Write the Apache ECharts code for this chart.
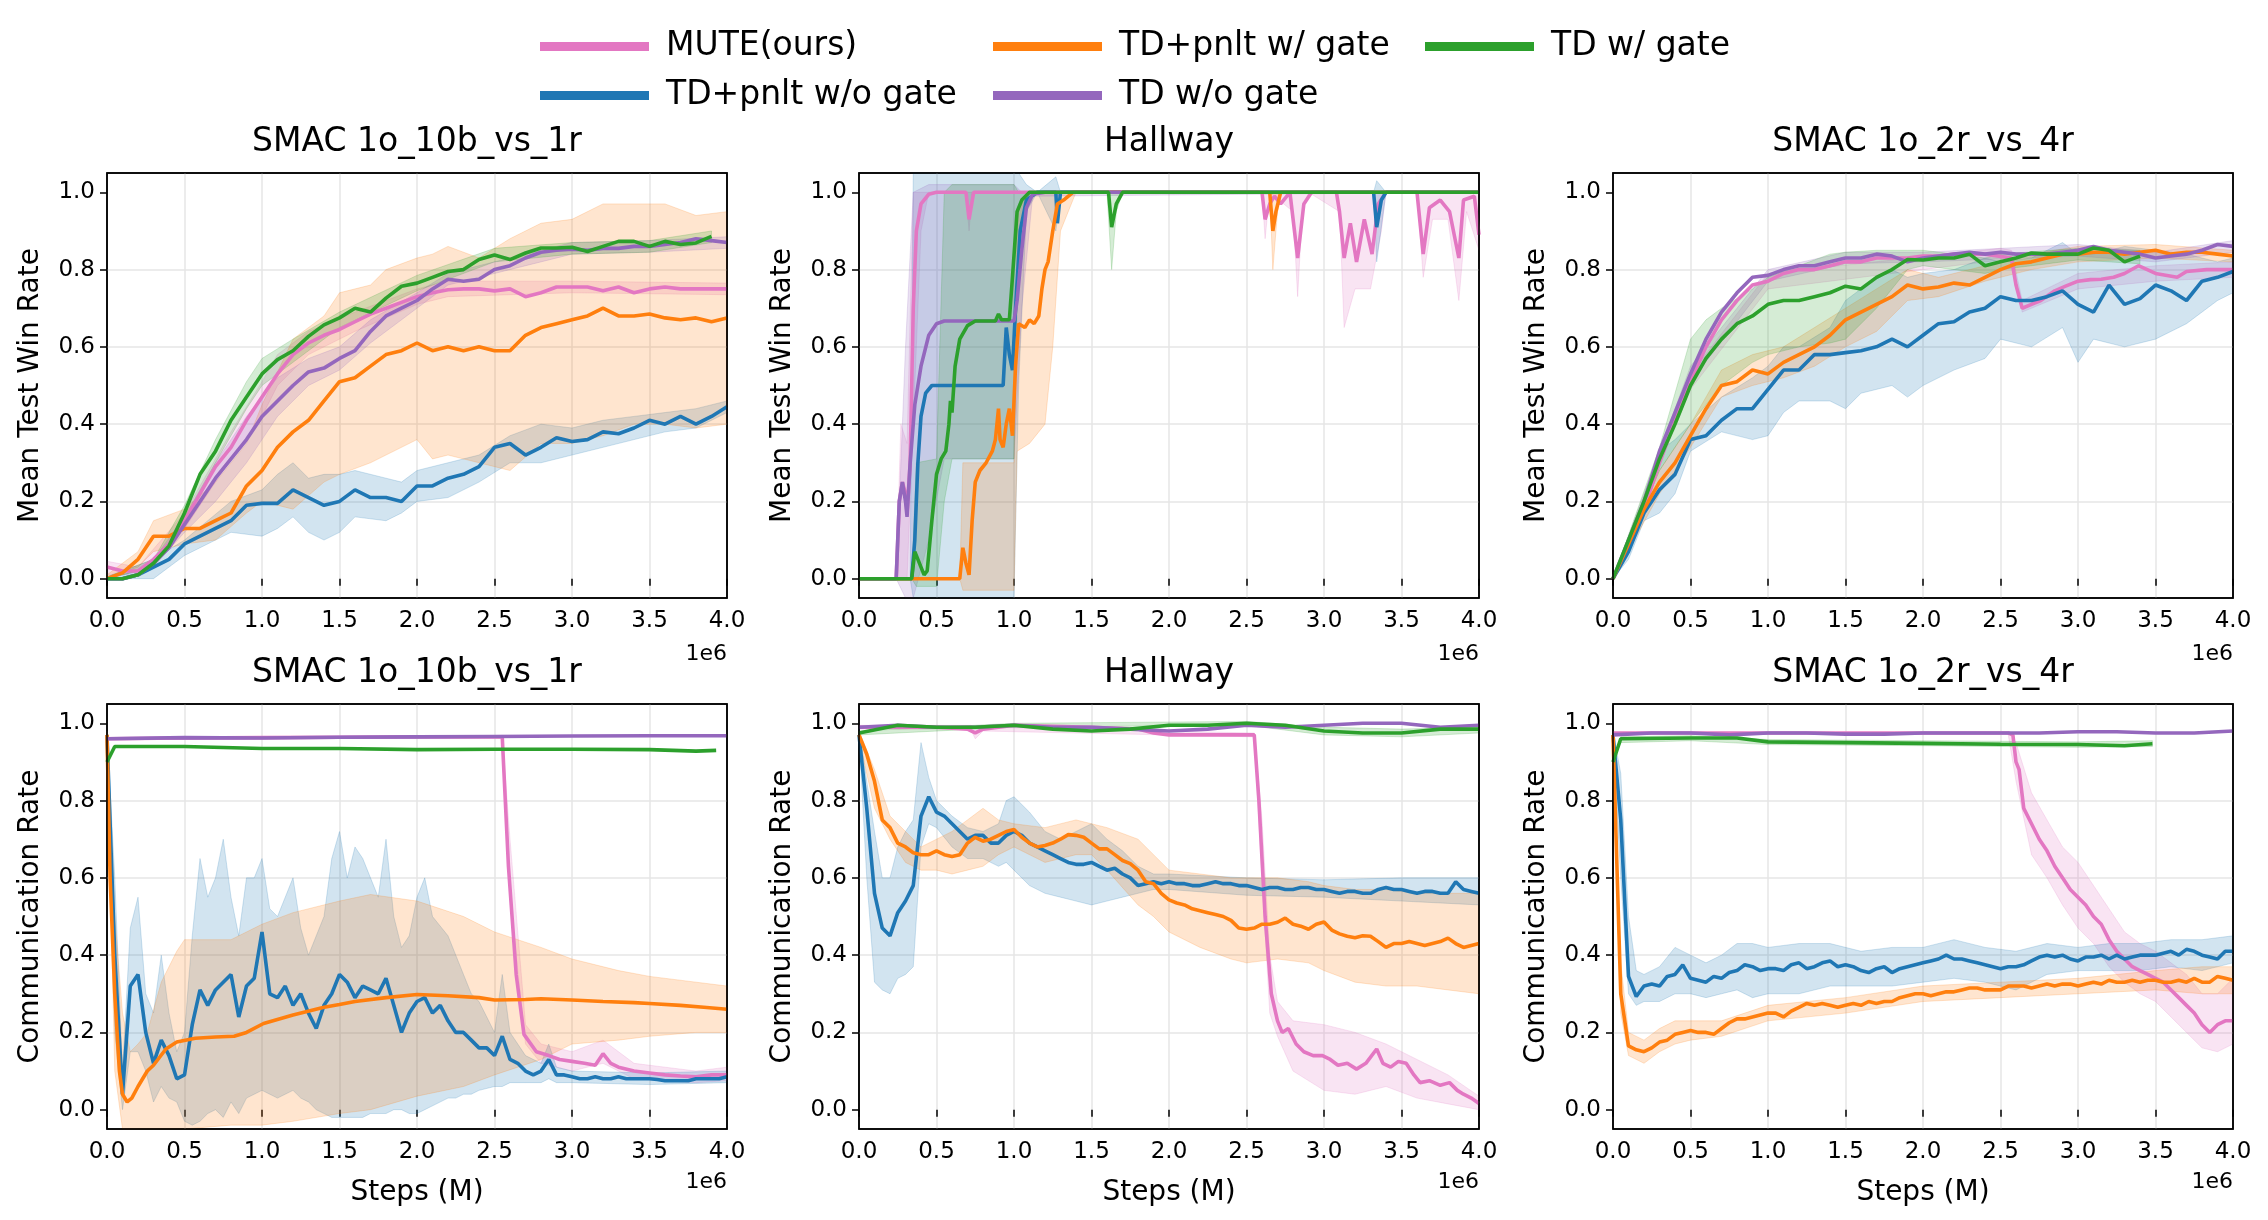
<!DOCTYPE html>
<html>
<head>
<meta charset="utf-8">
<script src="https://cdn.jsdelivr.net/npm/echarts@6/dist/echarts.min.js"></script>
<style>
  html, body { margin: 0; padding: 0; background: #fff; }
  #chart { width: 2268px; height: 1220px; }
</style>
</head>
<body>
<div id="chart"></div>
<script>
'use strict';

const methods = ['MUTE(ours)', 'TD+pnlt w/o gate', 'TD+pnlt w/ gate', 'TD w/o gate', 'TD w/ gate'];
const colors = ['#e377c2', '#1f77b4', '#ff7f0e', '#9467bd', '#2ca02c'];
const fills = ['rgba(227,119,194,0.2)', 'rgba(31,119,180,0.2)', 'rgba(255,127,14,0.2)', 'rgba(148,103,189,0.2)', 'rgba(44,160,44,0.2)'];
const titles = ['SMAC 1o_10b_vs_1r', 'Hallway', 'SMAC 1o_2r_vs_4r'];
const yNames = ['Mean Test Win Rate', 'Communication Rate'];
const yTicks = [0, 0.2, 0.4, 0.6, 0.8, 1.0];

// ---- top left: SMAC 1o_10b_vs_1r win rate (step 0.1M) ----
const A_pink = [0.03,0.02,0.02,0.05,0.09,0.15,0.22,0.29,0.34,0.41,0.47,0.53,0.58,0.61,0.63,0.645,0.665,0.685,0.70,0.715,0.73,0.74,0.748,0.75,0.75,0.745,0.75,0.73,0.74,0.755,0.755,0.755,0.745,0.755,0.74,0.75,0.755,0.75,0.75,0.75,0.75];
const A_blue = [0,0,0.01,0.03,0.05,0.09,0.11,0.13,0.15,0.19,0.195,0.195,0.23,0.21,0.19,0.20,0.23,0.21,0.21,0.20,0.24,0.24,0.26,0.27,0.29,0.34,0.35,0.32,0.34,0.365,0.355,0.36,0.38,0.375,0.39,0.41,0.40,0.42,0.40,0.42,0.445];
const A_orange = [0,0.015,0.05,0.11,0.11,0.13,0.13,0.15,0.17,0.24,0.28,0.34,0.38,0.41,0.46,0.51,0.52,0.55,0.58,0.59,0.61,0.59,0.60,0.59,0.60,0.59,0.59,0.63,0.65,0.66,0.67,0.68,0.70,0.68,0.68,0.685,0.675,0.67,0.675,0.665,0.675];
const A_purple = [0,0,0.01,0.04,0.08,0.14,0.2,0.26,0.31,0.36,0.42,0.46,0.5,0.535,0.545,0.57,0.59,0.64,0.68,0.70,0.72,0.75,0.775,0.77,0.775,0.80,0.81,0.83,0.845,0.85,0.853,0.85,0.855,0.855,0.86,0.86,0.865,0.87,0.88,0.875,0.87];
const A_green = [0,0,0.01,0.04,0.085,0.17,0.27,0.33,0.41,0.47,0.53,0.567,0.59,0.627,0.657,0.675,0.70,0.69,0.726,0.757,0.765,0.78,0.795,0.80,0.826,0.838,0.826,0.843,0.856,0.856,0.858,0.847,0.86,0.873,0.873,0.86,0.873,0.865,0.869,0.886];
const A_pink_band = [[0,0.01,0.045],[0.2,0.01,0.03],[0.5,0.13,0.17],[0.8,0.31,0.38],[1.0,0.42,0.51],[1.1,0.5,0.58],[1.3,0.58,0.64],[1.6,0.64,0.69],[2.0,0.71,0.75],[2.2,0.73,0.77],[3.0,0.74,0.77],[4.0,0.735,0.765]];
const A_blue_band = [[0,0,0],[0.2,0,0.02],[0.3,0.0,0.05],[0.5,0.06,0.1],[0.8,0.12,0.2],[1.0,0.11,0.23],[1.1,0.13,0.27],[1.2,0.16,0.3],[1.3,0.12,0.26],[1.4,0.1,0.27],[1.5,0.12,0.27],[1.6,0.16,0.28],[1.8,0.15,0.26],[1.9,0.17,0.25],[2.0,0.2,0.28],[2.2,0.21,0.3],[2.4,0.25,0.32],[2.6,0.3,0.37],[2.8,0.3,0.4],[3.0,0.32,0.39],[3.2,0.34,0.41],[3.4,0.36,0.42],[3.6,0.38,0.43],[3.8,0.39,0.44],[4.0,0.43,0.46]];
const A_orange_band = [[0,0,0.01],[0.2,0.03,0.07],[0.3,0.07,0.15],[0.5,0.09,0.18],[0.7,0.1,0.25],[0.9,0.17,0.35],[1.0,0.2,0.45],[1.2,0.18,0.62],[1.4,0.25,0.68],[1.5,0.27,0.74],[1.7,0.3,0.76],[1.8,0.32,0.8],[2.0,0.36,0.83],[2.1,0.31,0.84],[2.2,0.32,0.86],[2.4,0.3,0.83],[2.6,0.28,0.88],[2.8,0.35,0.92],[3.0,0.35,0.93],[3.2,0.37,0.97],[3.4,0.4,0.97],[3.6,0.4,0.97],[3.8,0.39,0.94],[4.0,0.4,0.95]];
const A_purple_band = [[0,0,0.005],[0.3,0.03,0.05],[0.5,0.12,0.16],[0.7,0.2,0.3],[0.9,0.3,0.42],[1.0,0.36,0.47],[1.1,0.42,0.52],[1.3,0.5,0.57],[1.5,0.54,0.6],[1.7,0.61,0.67],[2.0,0.7,0.74],[2.2,0.76,0.79],[2.5,0.79,0.82],[3.0,0.84,0.87],[3.5,0.845,0.875],[4.0,0.855,0.885]];
const A_green_band = [[0,0,0.005],[0.3,0.03,0.05],[0.5,0.15,0.19],[0.7,0.3,0.36],[0.9,0.44,0.51],[1.0,0.5,0.57],[1.2,0.56,0.62],[1.5,0.65,0.69],[2.0,0.745,0.785],[2.5,0.82,0.855],[3.0,0.84,0.87],[3.5,0.845,0.875],[3.9,0.87,0.9]];

// ---- top middle: Hallway win rate ([x, y]) ----
const B_pink = [[0,0],[0.24,0],[0.26,0.2],[0.28,0.25],[0.3,0.22],[0.31,0.17],[0.33,0.3],[0.35,0.7],[0.37,0.9],[0.4,0.97],[0.45,0.995],[0.5,1.0],[0.69,1.0],[0.71,0.93],[0.74,1.0],[2.6,1.0],[2.62,0.93],[2.65,0.97],[2.68,0.99],[2.72,0.97],[2.78,1.0],[2.83,0.83],[2.87,0.97],[2.92,1.0],[3.08,1.0],[3.1,0.95],[3.13,0.83],[3.17,0.92],[3.21,0.82],[3.26,0.93],[3.31,0.84],[3.35,0.97],[3.4,1.0],[3.6,1.0],[3.64,0.84],[3.68,0.96],[3.75,0.98],[3.81,0.95],[3.87,0.83],[3.9,0.98],[3.97,0.99],[4.0,0.89]];
const B_blue = [[0,0],[0.34,0],[0.36,0.1],[0.38,0.3],[0.4,0.42],[0.43,0.48],[0.47,0.5],[0.93,0.5],[0.95,0.65],[0.97,0.58],[0.99,0.54],[1.01,0.7],[1.04,0.9],[1.08,0.98],[1.15,1.0],[1.27,1.0],[1.28,0.92],[1.3,1.0],[3.32,1.0],[3.34,0.91],[3.37,0.98],[3.4,1.0],[4,1.0]];
const B_orange = [[0,0],[0.65,0],[0.67,0.08],[0.69,0.04],[0.71,0.01],[0.73,0.15],[0.75,0.25],[0.78,0.28],[0.82,0.3],[0.86,0.33],[0.88,0.36],[0.9,0.44],[0.91,0.36],[0.93,0.34],[0.95,0.4],[0.97,0.44],[0.99,0.37],[1.01,0.55],[1.03,0.66],[1.07,0.65],[1.1,0.67],[1.13,0.66],[1.16,0.68],[1.18,0.75],[1.2,0.8],[1.22,0.82],[1.25,0.9],[1.28,0.97],[1.32,0.98],[1.38,1.0],[2.65,1.0],[2.67,0.9],[2.69,0.95],[2.72,1.0],[4,1.0]];
const B_purple = [[0,0],[0.24,0],[0.26,0.2],[0.28,0.25],[0.3,0.2],[0.31,0.16],[0.33,0.3],[0.36,0.45],[0.4,0.55],[0.45,0.63],[0.5,0.66],[0.55,0.667],[1.0,0.667],[1.02,0.72],[1.05,0.85],[1.08,0.96],[1.12,0.995],[1.2,1.0],[4,1.0]];
const B_green = [[0,0],[0.34,0],[0.36,0.07],[0.38,0.05],[0.42,0.01],[0.44,0.02],[0.47,0.15],[0.5,0.27],[0.53,0.31],[0.56,0.33],[0.58,0.4],[0.59,0.46],[0.6,0.43],[0.62,0.55],[0.65,0.62],[0.7,0.655],[0.75,0.667],[0.88,0.667],[0.9,0.685],[0.92,0.67],[0.97,0.67],[0.99,0.78],[1.02,0.95],[1.05,0.98],[1.1,1.0],[1.61,1.0],[1.63,0.91],[1.66,0.97],[1.7,1.0],[4,1.0]];
const B_pink_band = [[0.24,0,0],[0.27,0,0.4],[0.31,0,0.35],[0.35,0.4,1.0],[0.4,0.9,1.0],[0.45,1,1],[0.69,1,1],[0.71,0.9,1],[0.73,1,1],[2.6,1,1],[2.62,0.88,1],[2.65,1,1],[2.8,0.95,1],[2.83,0.73,1],[2.86,0.95,1],[2.9,1,1],[3.1,0.95,1],[3.13,0.65,1],[3.2,0.75,1],[3.3,0.75,1],[3.37,0.9,1],[3.4,1,1],[3.6,1,1],[3.64,0.78,1],[3.7,0.93,1],[3.8,0.93,1],[3.87,0.72,1],[3.92,0.95,1],[4,0.85,1]];
const B_blue_band = [[0.33,0,0],[0.35,-0.3,1.2],[1.0,-0.3,1.2],[1.03,0.5,1.05],[1.08,0.95,1.02],[1.15,1,1],[1.27,0.9,1.04],[1.3,1,1],[3.32,1,1],[3.34,0.82,1.03],[3.4,1,1],[4,1,1]];
const B_orange_band = [[0.65,0,0],[0.67,-0.03,0.3],[1.0,-0.03,0.3],[1.02,0.33,0.95],[1.1,0.35,1.0],[1.2,0.4,1.0],[1.25,0.6,1.0],[1.3,0.9,1.0],[1.4,1,1],[2.65,1,1],[2.67,0.8,1.0],[2.7,0.95,1.0],[2.73,1,1],[4,1,1]];
const B_purple_band = [[0.24,0,0],[0.3,-0.1,0.6],[0.35,-0.1,1.0],[0.45,0.1,1.02],[0.55,0.31,1.02],[1.0,0.31,1.02],[1.05,0.7,1.0],[1.12,0.99,1.0],[4,1,1]];
const B_green_band = [[0.34,0,0],[0.37,-0.02,0.3],[0.5,-0.02,0.31],[0.55,0.2,1.0],[0.6,0.31,1.02],[1.0,0.31,1.02],[1.03,0.9,1.0],[1.1,1,1],[1.6,1,1],[1.63,0.8,1.0],[1.66,0.95,1.0],[1.7,1,1],[4,1,1]];

// ---- top right: SMAC 1o_2r_vs_4r win rate ----
const C_pink = [[0,0],[0.1,0.09],[0.2,0.18],[0.3,0.3],[0.4,0.41],[0.5,0.51],[0.6,0.6],[0.7,0.67],[0.8,0.72],[0.9,0.76],[1.0,0.77],[1.1,0.79],[1.2,0.8],[1.3,0.8],[1.4,0.81],[1.5,0.82],[1.6,0.82],[1.7,0.83],[1.8,0.83],[1.9,0.83],[2.0,0.835],[2.1,0.835],[2.2,0.84],[2.3,0.84],[2.4,0.84],[2.57,0.83],[2.6,0.76],[2.64,0.70],[2.7,0.71],[2.76,0.72],[2.85,0.745],[2.92,0.757],[3.0,0.77],[3.08,0.774],[3.15,0.775],[3.23,0.78],[3.3,0.79],[3.39,0.81],[3.5,0.79],[3.64,0.78],[3.7,0.795],[3.83,0.8],[4.0,0.8]];
const C_blue = [0,0.07,0.17,0.23,0.27,0.36,0.37,0.41,0.44,0.44,0.49,0.54,0.54,0.58,0.58,0.585,0.59,0.6,0.62,0.6,0.63,0.66,0.665,0.69,0.7,0.73,0.72,0.72,0.73,0.745,0.71,0.69,0.76,0.71,0.725,0.76,0.745,0.72,0.77,0.78,0.795];
const C_orange = [0,0.09,0.18,0.25,0.3,0.37,0.44,0.5,0.51,0.54,0.53,0.56,0.58,0.6,0.63,0.67,0.69,0.71,0.73,0.76,0.75,0.755,0.765,0.76,0.78,0.8,0.815,0.82,0.83,0.84,0.84,0.845,0.845,0.84,0.845,0.85,0.84,0.845,0.845,0.84,0.835];
const C_purple = [0,0.1,0.2,0.33,0.43,0.53,0.62,0.69,0.74,0.78,0.785,0.8,0.81,0.81,0.82,0.83,0.83,0.84,0.835,0.82,0.83,0.835,0.84,0.845,0.84,0.845,0.84,0.84,0.84,0.845,0.85,0.86,0.85,0.845,0.84,0.83,0.835,0.84,0.85,0.865,0.86];
const C_green = [0,0.1,0.2,0.31,0.4,0.5,0.57,0.62,0.66,0.68,0.71,0.72,0.72,0.73,0.74,0.757,0.75,0.78,0.8,0.826,0.825,0.83,0.83,0.84,0.81,0.82,0.83,0.843,0.84,0.84,0.84,0.856,0.85,0.82,0.835];
const C_pink_band = [[0,0,0],[0.5,0.49,0.53],[1.0,0.75,0.79],[2.5,0.825,0.855],[2.57,0.82,0.85],[2.64,0.69,0.72],[3.0,0.75,0.79],[3.5,0.77,0.81],[4.0,0.78,0.82]];
const C_blue_band = [[0,0,0],[0.1,0.05,0.1],[0.2,0.15,0.2],[0.3,0.17,0.33],[0.4,0.22,0.36],[0.5,0.33,0.4],[0.7,0.38,0.47],[0.9,0.36,0.52],[1.0,0.37,0.55],[1.1,0.43,0.6],[1.2,0.46,0.6],[1.4,0.46,0.65],[1.5,0.44,0.72],[1.6,0.48,0.75],[1.8,0.5,0.8],[1.9,0.47,0.78],[2.0,0.5,0.79],[2.2,0.54,0.8],[2.4,0.57,0.83],[2.5,0.62,0.82],[2.7,0.6,0.83],[2.9,0.65,0.87],[3.0,0.56,0.84],[3.1,0.62,0.84],[3.3,0.6,0.86],[3.5,0.62,0.85],[3.7,0.66,0.84],[3.9,0.72,0.82],[4.0,0.74,0.83]];
const C_orange_band = [[0,0,0],[0.3,0.22,0.28],[0.5,0.34,0.4],[0.7,0.47,0.54],[0.9,0.5,0.58],[1.1,0.52,0.6],[1.3,0.55,0.65],[1.5,0.6,0.7],[1.7,0.64,0.75],[1.9,0.72,0.8],[2.1,0.73,0.78],[2.4,0.77,0.81],[2.7,0.8,0.84],[3.0,0.82,0.86],[3.5,0.83,0.865],[4.0,0.82,0.85]];
const C_purple_band = [[0,0,0],[0.5,0.51,0.55],[1.0,0.77,0.8],[1.5,0.815,0.845],[2.0,0.82,0.845],[3.0,0.835,0.865],[3.5,0.82,0.845],[4.0,0.845,0.875]];
const C_green_band = [[0,0,0],[0.3,0.28,0.34],[0.5,0.4,0.62],[0.6,0.45,0.67],[0.7,0.5,0.7],[0.9,0.56,0.75],[1.0,0.58,0.78],[1.2,0.6,0.81],[1.4,0.61,0.84],[1.5,0.62,0.845],[1.7,0.7,0.85],[1.9,0.8,0.85],[2.0,0.81,0.85],[2.4,0.79,0.83],[2.5,0.8,0.84],[3.0,0.825,0.855],[3.4,0.815,0.85]];

// ---- bottom left: SMAC 1o_10b_vs_1r communication rate ----
const D_pink = [[0,0.96],[0.5,0.962],[1.0,0.963],[1.5,0.964],[2.0,0.965],[2.55,0.965],[2.59,0.63],[2.64,0.35],[2.69,0.195],[2.77,0.15],[2.85,0.14],[2.92,0.13],[3.0,0.125],[3.08,0.12],[3.15,0.115],[3.2,0.145],[3.25,0.12],[3.3,0.11],[3.4,0.1],[3.5,0.095],[3.6,0.09],[3.7,0.087],[3.8,0.085],[3.9,0.09],[4.0,0.09]];
const D_blue = [
  0.97,0.4,0.04,0.32,0.35,0.2,0.12,0.18,0.14,0.08,
  0.09,0.22,0.31,0.27,0.31,0.33,0.35,0.24,0.32,0.34,
  0.46,0.3,0.29,0.32,0.27,0.3,0.25,0.21,0.27,0.3,
  0.35,0.33,0.29,0.32,0.31,0.3,0.34,0.27,0.2,0.25,
  0.28,0.29,0.25,0.27,0.23,0.2,0.2,0.18,0.16,0.16,
  0.14,0.19,0.13,0.12,0.1,0.09,0.1,0.13,0.09,0.09,
  0.085,0.08,0.08,0.085,0.08,0.08,0.085,0.08,0.08,0.08,
  0.08,0.078,0.075,0.075,0.075,0.075,0.08,0.08,0.08,0.08,
  0.085];
const D_orange = [[0,0.97],[0.02,0.6],[0.05,0.3],[0.08,0.1],[0.1,0.04],[0.13,0.02],[0.16,0.03],[0.2,0.06],[0.26,0.1],[0.3,0.115],[0.38,0.157],[0.45,0.175],[0.57,0.185],[0.7,0.188],[0.82,0.19],[0.9,0.2],[1.01,0.223],[1.2,0.245],[1.4,0.265],[1.5,0.272],[1.6,0.28],[1.8,0.29],[2.0,0.298],[2.2,0.295],[2.4,0.29],[2.5,0.284],[2.7,0.285],[2.8,0.287],[3.0,0.284],[3.2,0.28],[3.4,0.277],[3.5,0.275],[3.7,0.27],[3.85,0.265],[4.0,0.26]];
const D_purple = [0.96,0.963,0.962,0.964,0.965,0.966,0.967,0.968,0.968];
const D_green = [[0,0.9],[0.05,0.94],[0.5,0.94],[1.0,0.935],[1.5,0.935],[2.0,0.932],[2.5,0.933],[3.0,0.933],[3.5,0.932],[3.8,0.928],[3.93,0.93]];
const D_pink_band = [[2.55,0.96,0.97],[2.6,0.55,0.7],[2.7,0.17,0.22],[2.8,0.12,0.17],[3.0,0.1,0.15],[3.2,0.12,0.18],[3.4,0.08,0.12],[3.6,0.075,0.11],[3.8,0.07,0.1],[4.0,0.075,0.11]];
const D_blue_band = [[0,0.96,0.98],[0.05,0.2,0.6],[0.1,0.0,0.1],[0.15,0.15,0.47],[0.2,0.15,0.55],[0.25,0.1,0.3],[0.3,0.02,0.25],[0.35,0.06,0.4],[0.4,0.03,0.25],[0.45,0.02,0.15],[0.5,-0.03,0.2],[0.55,-0.04,0.45],[0.6,-0.03,0.65],[0.65,-0.01,0.55],[0.7,0.0,0.6],[0.75,-0.02,0.7],[0.8,0.02,0.55],[0.85,-0.01,0.45],[0.9,0.03,0.6],[0.95,0.04,0.6],[1.0,0.05,0.65],[1.05,0.04,0.52],[1.1,0.03,0.5],[1.15,0.04,0.55],[1.2,0.05,0.6],[1.25,0.03,0.47],[1.3,0.02,0.4],[1.35,0.0,0.45],[1.4,-0.01,0.5],[1.45,-0.02,0.65],[1.5,-0.02,0.72],[1.55,-0.02,0.6],[1.6,-0.02,0.68],[1.65,-0.02,0.65],[1.7,-0.01,0.6],[1.75,-0.01,0.55],[1.8,-0.01,0.7],[1.85,0.0,0.5],[1.9,0.0,0.42],[1.95,-0.01,0.45],[2.0,-0.01,0.55],[2.05,0.0,0.6],[2.1,0.01,0.5],[2.2,0.03,0.45],[2.25,0.03,0.4],[2.3,0.04,0.35],[2.35,0.04,0.3],[2.4,0.05,0.28],[2.5,0.06,0.2],[2.55,0.06,0.35],[2.6,0.07,0.2],[2.7,0.07,0.14],[2.8,0.07,0.12],[2.85,0.08,0.17],[2.9,0.07,0.11],[3.0,0.07,0.1],[3.5,0.065,0.095],[4.0,0.07,0.1]];
const D_orange_band = [[0,0.96,0.98],[0.05,0.1,0.5],[0.1,-0.1,0.25],[0.15,-0.15,0.15],[0.2,-0.1,0.17],[0.26,-0.1,0.2],[0.35,-0.08,0.33],[0.45,-0.06,0.41],[0.5,-0.05,0.44],[0.8,-0.04,0.44],[1.0,-0.04,0.48],[1.2,-0.03,0.51],[1.5,-0.01,0.54],[1.7,0.0,0.557],[2.0,0.035,0.54],[2.3,0.06,0.5],[2.5,0.09,0.46],[2.8,0.13,0.42],[3.0,0.17,0.39],[3.3,0.18,0.36],[3.5,0.19,0.345],[3.8,0.2,0.33],[4.0,0.2,0.32]];

// ---- bottom middle: Hallway communication rate ----
const E_pink = [[0,0.99],[0.5,0.99],[0.7,0.985],[0.75,0.975],[0.8,0.985],[1.0,0.995],[1.5,0.99],[1.8,0.985],[1.9,0.975],[2.0,0.97],[2.3,0.97],[2.55,0.97],[2.58,0.8],[2.62,0.5],[2.66,0.3],[2.7,0.23],[2.73,0.2],[2.77,0.21],[2.82,0.17],[2.87,0.15],[2.93,0.14],[2.99,0.14],[3.04,0.13],[3.09,0.115],[3.15,0.12],[3.21,0.105],[3.27,0.12],[3.34,0.157],[3.38,0.12],[3.43,0.11],[3.48,0.125],[3.53,0.12],[3.58,0.09],[3.62,0.07],[3.68,0.075],[3.75,0.063],[3.81,0.07],[3.86,0.05],[3.9,0.04],[3.95,0.03],[4.0,0.016]];
const E_blue = [
  0.97,0.78,0.56,0.47,0.45,0.51,0.54,0.58,0.76,0.81,
  0.77,0.76,0.74,0.72,0.7,0.71,0.71,0.69,0.69,0.71,
  0.72,0.71,0.69,0.68,0.67,0.66,0.65,0.64,0.635,0.635,
  0.64,0.63,0.62,0.625,0.61,0.6,0.58,0.585,0.59,0.585,
  0.59,0.585,0.585,0.58,0.58,0.585,0.59,0.585,0.585,0.58,
  0.58,0.575,0.57,0.575,0.575,0.57,0.57,0.575,0.575,0.57,
  0.57,0.565,0.56,0.565,0.565,0.56,0.56,0.57,0.575,0.57,
  0.57,0.565,0.56,0.565,0.565,0.56,0.56,0.59,0.57,0.565,
  0.56];
const E_orange = [
  0.97,0.92,0.85,0.75,0.73,0.69,0.68,0.665,0.66,0.66,
  0.67,0.66,0.655,0.66,0.69,0.705,0.695,0.7,0.71,0.72,
  0.725,0.705,0.69,0.68,0.684,0.69,0.7,0.712,0.71,0.705,
  0.69,0.675,0.675,0.66,0.645,0.637,0.62,0.59,0.585,0.56,
  0.543,0.535,0.53,0.52,0.515,0.51,0.505,0.5,0.49,0.47,
  0.467,0.47,0.48,0.48,0.485,0.496,0.48,0.475,0.467,0.48,
  0.486,0.465,0.455,0.449,0.445,0.45,0.449,0.435,0.42,0.43,
  0.43,0.435,0.43,0.425,0.43,0.435,0.444,0.43,0.42,0.425,
  0.43];
const E_purple = [0.99,0.995,0.99,0.99,0.995,0.99,0.99,0.985,0.98,0.985,0.995,0.99,0.995,1.0,1.0,0.99,0.995];
const E_green = [0.975,0.995,0.99,0.99,0.995,0.985,0.98,0.985,0.995,0.995,1.0,0.995,0.98,0.975,0.975,0.985,0.985];
const E_pink_band = [[0,0.985,0.995],[0.72,0.985,0.995],[0.75,0.96,0.99],[0.8,0.98,0.99],[2.55,0.965,0.975],[2.6,0.6,0.75],[2.65,0.25,0.4],[2.7,0.19,0.28],[2.8,0.1,0.23],[3.0,0.05,0.22],[3.2,0.04,0.2],[3.4,0.06,0.17],[3.6,0.03,0.13],[3.8,0.015,0.09],[4.0,0.0,0.035]];
const E_blue_band = [[0,0.97,0.99],[0.05,0.6,0.85],[0.1,0.33,0.72],[0.15,0.31,0.6],[0.2,0.3,0.6],[0.25,0.34,0.68],[0.3,0.35,0.72],[0.35,0.37,0.75],[0.4,0.68,0.95],[0.45,0.74,0.86],[0.5,0.73,0.8],[0.6,0.68,0.76],[0.7,0.65,0.73],[0.8,0.65,0.72],[0.9,0.63,0.74],[0.95,0.64,0.8],[1.0,0.62,0.81],[1.1,0.58,0.77],[1.2,0.56,0.72],[1.3,0.55,0.7],[1.4,0.54,0.72],[1.5,0.53,0.74],[1.6,0.54,0.7],[1.7,0.55,0.67],[1.8,0.56,0.63],[1.9,0.57,0.61],[2.0,0.57,0.61],[2.5,0.555,0.6],[3.0,0.55,0.595],[3.5,0.54,0.6],[4.0,0.53,0.6]];
const E_orange_band = [[0,0.96,0.98],[0.1,0.78,0.88],[0.2,0.7,0.76],[0.3,0.64,0.72],[0.4,0.62,0.68],[0.5,0.62,0.7],[0.6,0.61,0.72],[0.7,0.62,0.75],[0.8,0.63,0.78],[0.9,0.66,0.75],[1.0,0.68,0.74],[1.2,0.64,0.73],[1.4,0.66,0.75],[1.5,0.66,0.74],[1.6,0.62,0.73],[1.8,0.53,0.7],[1.9,0.5,0.66],[2.0,0.46,0.62],[2.2,0.42,0.61],[2.4,0.39,0.6],[2.5,0.38,0.6],[2.7,0.39,0.6],[2.9,0.38,0.59],[3.0,0.36,0.58],[3.2,0.33,0.57],[3.4,0.32,0.57],[3.6,0.32,0.56],[3.8,0.31,0.56],[4.0,0.3,0.56]];
const E_green_band = [[0,0.97,0.98],[1.0,0.99,1.0],[2.5,0.995,1.005],[3.0,0.97,0.99],[3.5,0.965,0.985],[4.0,0.975,0.99]];

// ---- bottom right: SMAC 1o_2r_vs_4r communication rate ----
const F_pink = [[0,0.975],[1.0,0.975],[2.0,0.975],[2.55,0.975],[2.58,0.97],[2.6,0.9],[2.62,0.88],[2.65,0.78],[2.7,0.74],[2.75,0.7],[2.8,0.67],[2.85,0.63],[2.9,0.6],[2.95,0.57],[3.0,0.55],[3.05,0.53],[3.1,0.5],[3.15,0.48],[3.2,0.44],[3.25,0.41],[3.3,0.39],[3.35,0.37],[3.4,0.36],[3.45,0.35],[3.5,0.34],[3.55,0.33],[3.6,0.31],[3.65,0.29],[3.7,0.27],[3.75,0.25],[3.8,0.22],[3.85,0.2],[3.9,0.22],[3.95,0.23],[4.0,0.23]];
const F_blue = [
  0.97,0.75,0.345,0.293,0.32,0.325,0.32,0.345,0.35,0.375,
  0.34,0.335,0.33,0.345,0.34,0.355,0.36,0.375,0.37,0.36,
  0.365,0.365,0.36,0.375,0.38,0.365,0.37,0.38,0.385,0.37,
  0.375,0.37,0.36,0.355,0.365,0.37,0.355,0.365,0.37,0.375,
  0.38,0.385,0.39,0.4,0.39,0.39,0.385,0.38,0.375,0.37,
  0.365,0.37,0.37,0.375,0.385,0.395,0.4,0.395,0.4,0.39,
  0.385,0.395,0.395,0.4,0.39,0.4,0.39,0.395,0.4,0.4,
  0.4,0.405,0.41,0.4,0.415,0.41,0.4,0.395,0.39,0.41,
  0.41];
const F_orange = [
  0.97,0.3,0.165,0.155,0.15,0.16,0.175,0.18,0.195,0.2,
  0.205,0.2,0.2,0.195,0.21,0.225,0.235,0.235,0.24,0.245,
  0.25,0.25,0.24,0.255,0.265,0.275,0.27,0.275,0.27,0.265,
  0.27,0.275,0.27,0.28,0.275,0.28,0.28,0.29,0.295,0.3,
  0.3,0.295,0.3,0.305,0.305,0.31,0.315,0.315,0.31,0.31,
  0.31,0.32,0.32,0.32,0.315,0.32,0.325,0.32,0.325,0.325,
  0.32,0.325,0.33,0.325,0.335,0.33,0.33,0.335,0.33,0.335,
  0.335,0.33,0.33,0.335,0.33,0.34,0.33,0.33,0.345,0.34,
  0.335];
const F_purple = [0.97,0.975,0.975,0.97,0.975,0.975,0.972,0.972,0.975,0.975,0.975,0.975,0.978,0.978,0.975,0.975,0.98];
const F_green = [[0,0.9],[0.05,0.96],[0.5,0.962],[0.8,0.962],[1.0,0.952],[1.5,0.95],[2.0,0.948],[2.5,0.946],[3.0,0.945],[3.3,0.942],[3.48,0.947]];
const F_pink_band = [[2.55,0.97,0.98],[2.6,0.85,0.95],[2.7,0.66,0.82],[2.8,0.6,0.75],[2.9,0.53,0.68],[3.0,0.47,0.64],[3.1,0.43,0.58],[3.2,0.37,0.52],[3.3,0.33,0.46],[3.4,0.3,0.43],[3.5,0.28,0.41],[3.6,0.24,0.38],[3.7,0.2,0.35],[3.8,0.16,0.3],[3.9,0.15,0.3],[4.0,0.17,0.34]];
const F_blue_band = [[0,0.96,0.98],[0.05,0.6,0.87],[0.1,0.3,0.5],[0.15,0.27,0.36],[0.2,0.28,0.35],[0.3,0.28,0.37],[0.4,0.3,0.42],[0.5,0.3,0.4],[0.6,0.29,0.38],[0.7,0.3,0.4],[0.8,0.31,0.43],[0.9,0.29,0.43],[1.0,0.3,0.42],[1.2,0.3,0.43],[1.4,0.32,0.43],[1.6,0.32,0.41],[1.8,0.32,0.42],[2.0,0.33,0.42],[2.2,0.34,0.44],[2.4,0.33,0.42],[2.6,0.31,0.41],[2.8,0.35,0.43],[3.0,0.36,0.42],[3.2,0.36,0.43],[3.4,0.36,0.43],[3.6,0.37,0.44],[3.8,0.36,0.44],[4.0,0.38,0.45]];
const F_orange_band = [[0,0.96,0.98],[0.05,0.25,0.38],[0.1,0.14,0.2],[0.2,0.12,0.18],[0.3,0.15,0.21],[0.4,0.17,0.23],[0.5,0.18,0.23],[0.7,0.19,0.23],[1.0,0.23,0.27],[1.5,0.25,0.29],[2.0,0.28,0.32],[2.5,0.29,0.33],[3.0,0.3,0.34],[3.5,0.31,0.36],[3.8,0.3,0.37],[4.0,0.3,0.37]];
const F_green_band = [[0,0.9,0.91],[0.05,0.95,0.965],[0.5,0.955,0.968],[1.0,0.945,0.958],[2.0,0.942,0.955],[3.0,0.938,0.952],[3.48,0.94,0.955]];

// values on a regular step grid -> [x, y] pairs
const seq = (step, vals) => vals.map((v, i) => [Math.round(i * step * 100) / 100, v]);

const panels = [
    {lines: [seq(0.1, A_pink), seq(0.1, A_blue), seq(0.1, A_orange), seq(0.1, A_purple), seq(0.1, A_green)],
     bands: [A_pink_band, A_blue_band, A_orange_band, A_purple_band, A_green_band]},
    {lines: [B_pink, B_blue, B_orange, B_purple, B_green],
     bands: [B_pink_band, B_blue_band, B_orange_band, B_purple_band, B_green_band]},
    {lines: [C_pink, seq(0.1, C_blue), seq(0.1, C_orange), seq(0.1, C_purple), seq(0.1, C_green)],
     bands: [C_pink_band, C_blue_band, C_orange_band, C_purple_band, C_green_band]},
    {lines: [D_pink, seq(0.05, D_blue), D_orange, seq(0.5, D_purple), D_green],
     bands: [D_pink_band, D_blue_band, D_orange_band, null, null]},
    {lines: [E_pink, seq(0.05, E_blue), seq(0.05, E_orange), seq(0.25, E_purple), seq(0.25, E_green)],
     bands: [E_pink_band, E_blue_band, E_orange_band, null, E_green_band]},
    {lines: [F_pink, seq(0.05, F_blue), seq(0.05, F_orange), seq(0.25, F_purple), F_green],
     bands: [F_pink_band, F_blue_band, F_orange_band, null, F_green_band]}
];

const FONT = 'DejaVu Sans';
const gridLeft = [107, 859, 1613], gridTop = [173, 704], gridW = 620, gridH = 425;

const bandSeries = (k, band, fill) => ({
    type: 'custom', xAxisIndex: k, yAxisIndex: k, silent: true,
    data: [[0, 0]],
    renderItem: (params, api) => {
        const up = band.map(p => api.coord([p[0], p[2]]));
        const lo = band.map(p => api.coord([p[0], p[1]])).reverse();
        const cs = params.coordSys;
        const pts = echarts.graphic.clipPointsByRect(up.concat(lo), {x: cs.x, y: cs.y, width: cs.width, height: cs.height});
        return {type: 'polygon', shape: {points: pts}, style: {fill: fill, stroke: fill, lineWidth: 1}};
    }
});

const tickStyle = {color: '#000', width: 1.5};
const splitStyle = {color: '#e6e6e6', width: 1.5};
const grids = [], xAxes = [], yAxes = [], series = [], graphics = [];
panels.forEach((p, k) => {
    const row = Math.floor(k / 3), col = k % 3;
    grids.push({left: gridLeft[col], top: gridTop[row], width: gridW, height: gridH,
        show: true, borderColor: '#000', borderWidth: 1.5, backgroundColor: 'transparent'});
    xAxes.push({
        type: 'value', gridIndex: k, min: 0, max: 4, interval: 0.5,
        axisLine: {show: false},
        axisTick: {show: true, length: 7, lineStyle: tickStyle},
        axisLabel: {formatter: v => v.toFixed(1), fontSize: 23, fontFamily: FONT, color: '#000', margin: 12},
        splitLine: {show: true, showMinLine: false, showMaxLine: false, lineStyle: splitStyle},
        name: row === 1 ? 'Steps (M)' : '', nameLocation: 'middle', nameGap: 50,
        nameTextStyle: {fontSize: 28, fontFamily: FONT, color: '#000'}
    });
    yAxes.push({
        type: 'value', gridIndex: k, min: -0.05, max: 1.05,
        axisLine: {show: false},
        axisTick: {show: true, length: 7, customValues: yTicks, lineStyle: tickStyle},
        axisLabel: {customValues: yTicks, formatter: v => v.toFixed(1), fontSize: 23, fontFamily: FONT, color: '#000', margin: 12},
        splitLine: {show: true, showMinLine: false, showMaxLine: false, lineStyle: splitStyle},
        name: yNames[row], nameLocation: 'middle', nameGap: 62,
        nameTextStyle: {fontSize: 28, fontFamily: FONT, color: '#000'}
    });
    methods.forEach((m, i) => {
        if (p.bands[i]) series.push(bandSeries(k, p.bands[i], fills[i]));
        series.push({
            name: m, type: 'line', xAxisIndex: k, yAxisIndex: k, data: p.lines[i],
            showSymbol: false, symbol: 'none', color: colors[i],
            lineStyle: {width: 3.6, color: colors[i]}, emphasis: {disabled: true}
        });
    });
    const cx = gridLeft[col] + gridW / 2;
    graphics.push({type: 'text', x: cx, y: row === 0 ? 142 : 673,
        style: {text: titles[col], font: '33px "DejaVu Sans"', fill: '#000',
            align: 'center', verticalAlign: 'middle', textAlign: 'center', textVerticalAlign: 'middle'}});
    graphics.push({type: 'text', x: gridLeft[col] + gridW, y: row === 0 ? 654 : 1182,
        style: {text: '1e6', font: '22px "DejaVu Sans"', fill: '#000',
            align: 'right', verticalAlign: 'middle', textAlign: 'right', textVerticalAlign: 'middle'}});
    // frame on top of the plotted lines, like matplotlib spines
    graphics.push({type: 'rect', z: 100, silent: true,
        shape: {x: gridLeft[col], y: gridTop[row], width: gridW, height: gridH},
        style: {fill: 'none', stroke: '#000', lineWidth: 1.5}});
});

const legendPos = [[535, 25], [535, 74], [988, 25], [988, 74], [1420, 25]];
const legends = methods.map((m, i) => ({
    data: [m], left: legendPos[i][0], top: legendPos[i][1], selectedMode: false,
    icon: 'rect', itemWidth: 109, itemHeight: 9, itemGap: 0,
    textStyle: {fontSize: 33, fontFamily: FONT, color: '#000', padding: [0, 0, 0, 12]}
}));

const chart = echarts.init(document.getElementById('chart'));
chart.setOption({
    animation: false,
    backgroundColor: '#fff',
    grid: grids,
    xAxis: xAxes,
    yAxis: yAxes,
    legend: legends,
    graphic: graphics,
    series: series
});
</script>
</body>
</html>
